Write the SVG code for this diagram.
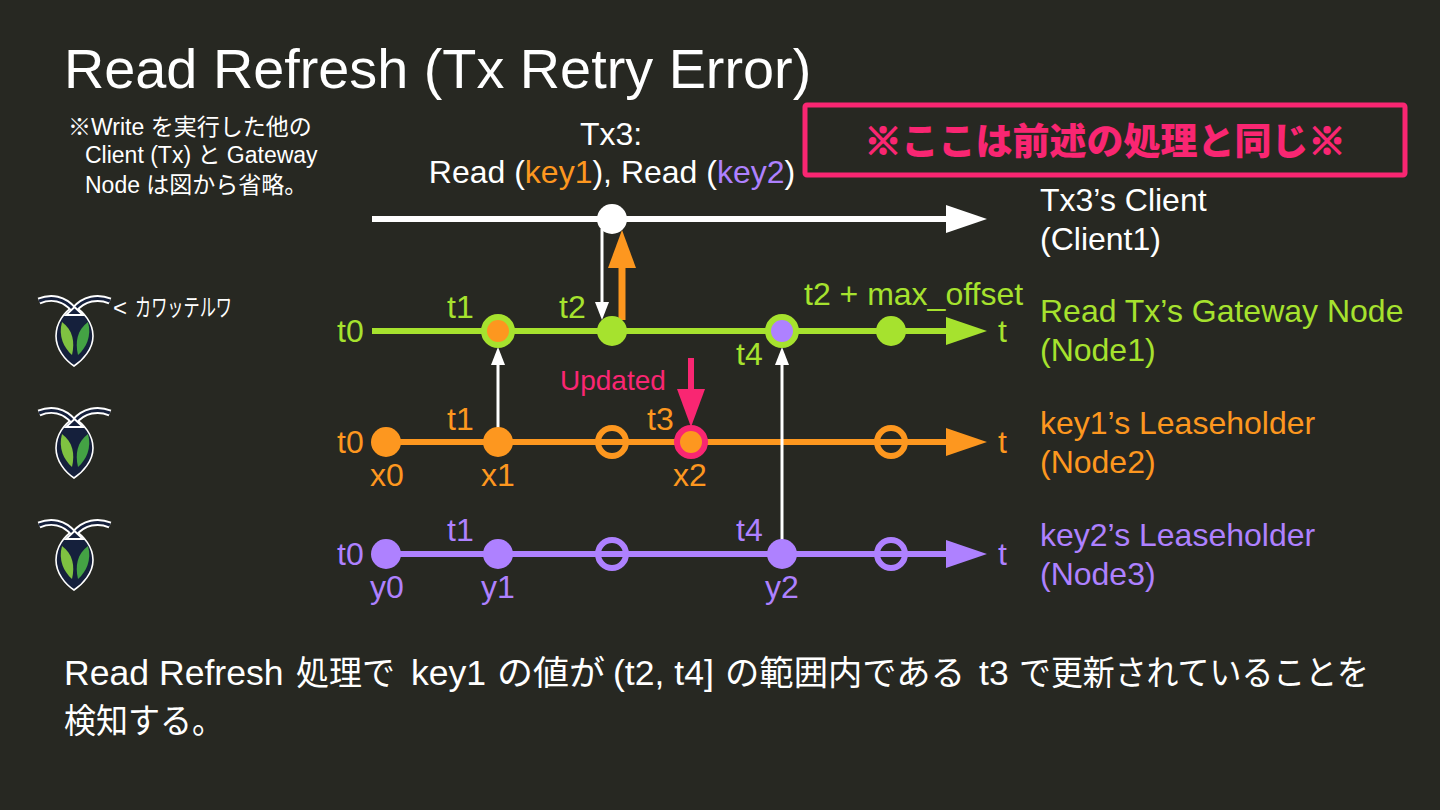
<svg xmlns="http://www.w3.org/2000/svg" width="1440" height="810" viewBox="0 0 1440 810">
<style>
text{font-family:"Liberation Sans","Noto Sans CJK JP",sans-serif;font-size:32px}
.w{fill:#fff}.g{fill:#a6e22e}.o{fill:#fd971f}.p{fill:#ae81ff}.r{fill:#f92672}
.ln{stroke-width:6;fill:none}
.ws{stroke:#fff}.gs{stroke:#a6e22e}.os{stroke:#fd971f}.ps{stroke:#ae81ff}.rs{stroke:#f92672}
.hollow{fill:none;stroke-width:6}
.ring{stroke-width:6}
.c{text-anchor:middle}
.note{font-size:23px}
.foot{font-size:35.600px}
.cj{font-size:34.500px}
.mark{stroke:#f92672;stroke-width:1.800px}
</style>
<defs>
<g id="logo">
<path d="M36 12C26 18 18 29 18 42C18 55 27 66 36 72C45 66 55 55 55 42C55 29 46 18 36 12Z" fill="#15203c" stroke="#fff" stroke-width="1.6"/>
<path d="M1 7C13 2 26 4 36 16C46 4 60 2 72 7" fill="none" stroke="#fff" stroke-width="7"/>
<path d="M1 7C13 2 26 4 36 16C46 4 60 2 72 7" fill="none" stroke="#15203c" stroke-width="3"/>
<path d="M36.500 13L45 21H28Z" fill="#15203c" stroke="#fff" stroke-width="2"/>
<path d="M24 28C20 42 26 54 34 61C37 48 35 36 24 28Z" fill="#7fc241"/>
<path d="M50 28C54 42 48 54 40 61C37 48 39 36 50 28Z" fill="#44a244"/>
</g>
</defs>
<rect width="1440" height="810" fill="#272822"/>
<text class="w" x="64" y="88" style="font-size:55.800px">Read Refresh (Tx Retry Error)</text>
<g id="note" class="w">
<text class="note" x="68" y="135">※Write を実行した他の</text>
<text class="note" x="85" y="163">Client (Tx) と Gateway</text>
<text class="note" x="85" y="193">Node は図から省略。</text>
</g>
<g id="banner">
<rect x="805" y="105" width="600" height="70" rx="2" fill="none" stroke="#f92672" stroke-width="5"/>
<text class="r c" x="1105" y="155" font-weight="900" style="font-family:'Noto Sans CJK JP',sans-serif;font-size:37px"><tspan class="mark">※</tspan>ここは前述の処理と同じ<tspan class="mark">※</tspan></text>
</g>
<g id="tx3-label" class="c">
<text class="w" x="611" y="145">Tx3:</text>
<text class="w" x="612" y="183">Read (<tspan class="o">key1</tspan>), Read (<tspan class="p">key2</tspan>)</text>
</g>
<g id="connectors">
<path class="ln ws" d="M372 219H950"/><path class="w" d="M946 205L987 219L946 233Z"/>
<path class="ln gs" d="M372 331H950"/><path class="g" d="M946 317L987 331L946 345Z"/>
<path class="ln os" d="M372 442H950"/><path class="o" d="M946 428L987 442L946 456Z"/>
<path class="ln ps" d="M372 554H950"/><path class="p" d="M946 540L987 554L946 568Z"/>
<path d="M602 229V305" stroke="#fff" stroke-width="3"/><path class="w" d="M595 302H609L602 320Z"/>
<path d="M622 320V266" stroke="#fd971f" stroke-width="7"/><path class="o" d="M608 268H636L622 230Z"/>
<path d="M498 430V362" stroke="#fff" stroke-width="3"/><path class="w" d="M491 365H505L498 347Z"/>
<path d="M782 542V362" stroke="#fff" stroke-width="3"/><path class="w" d="M775 365H789L782 347Z"/>
<path d="M691 358V392" stroke="#f92672" stroke-width="6"/><path class="r" d="M677 389H705L691 427Z"/>
</g>
<g id="client-points"><circle class="w" cx="612" cy="219" r="15"/></g>
<g id="node1-points">
<circle class="o gs ring" cx="498" cy="331" r="14"/>
<circle class="g" cx="612" cy="331" r="15"/>
<circle class="p gs ring" cx="782" cy="331" r="14"/>
<circle class="g" cx="891" cy="331" r="15"/>
</g>
<g id="node2-points">
<circle class="o" cx="386" cy="442" r="15"/>
<circle class="o" cx="498" cy="442" r="15"/>
<circle class="hollow os" cx="612" cy="442" r="14"/>
<circle class="o rs ring" cx="691" cy="442" r="14"/>
<circle class="hollow os" cx="891" cy="442" r="14"/>
</g>
<g id="node3-points">
<circle class="p" cx="386" cy="554" r="15"/>
<circle class="p" cx="498" cy="554" r="15"/>
<circle class="hollow ps" cx="612" cy="554" r="14"/>
<circle class="p" cx="782" cy="554" r="15"/>
<circle class="hollow ps" cx="891" cy="554" r="14"/>
</g>
<g id="labels-node1" class="g">
<text x="337" y="342">t0</text><text x="447" y="318">t1</text><text x="559" y="318">t2</text>
<text x="736" y="365">t4</text><text x="804" y="305">t2 + max_offset</text><text x="998" y="342">t</text>
</g>
<g id="labels-node2" class="o">
<text x="337" y="453">t0</text><text x="447" y="430">t1</text><text x="647" y="430">t3</text><text x="998" y="453">t</text>
<text x="370" y="486">x0</text><text x="481" y="486">x1</text><text x="673" y="486">x2</text>
</g>
<g id="labels-node3" class="p">
<text x="337" y="565">t0</text><text x="447" y="541">t1</text><text x="736" y="541">t4</text><text x="998" y="565">t</text>
<text x="370" y="598">y0</text><text x="481" y="598">y1</text><text x="765" y="598">y2</text>
</g>
<text id="updated" class="r" x="560" y="390" style="font-size:28px">Updated</text>
<g id="legend">
<text class="w" x="1040" y="211">Tx3’s Client</text><text class="w" x="1040" y="250">(Client1)</text>
<text class="g" x="1040" y="322">Read Tx’s Gateway Node</text><text class="g" x="1040" y="361">(Node1)</text>
<text class="o" x="1040" y="434">key1’s Leaseholder</text><text class="o" x="1040" y="473">(Node2)</text>
<text class="p" x="1040" y="546">key2’s Leaseholder</text><text class="p" x="1040" y="585">(Node3)</text>
</g>
<g id="roach1"><use href="#logo" x="38" y="294"/><text class="w" x="113" y="316" style="font-size:24px">&lt;</text><text class="w" x="135" y="316" textLength="97" lengthAdjust="spacingAndGlyphs" style="font-size:24px">カワッテルワ</text></g>
<g id="roach2"><use href="#logo" x="38" y="406"/></g>
<g id="roach3"><use href="#logo" x="38" y="518"/></g>
<g id="footer" class="w">
<text class="foot" y="685"><tspan x="64">Read Refresh</tspan><tspan class="cj" x="296" textLength="99" lengthAdjust="spacingAndGlyphs">処理で</tspan><tspan x="411">key1</tspan><tspan class="cj" x="497" textLength="108" lengthAdjust="spacingAndGlyphs">の値が</tspan><tspan x="613">(t2, t4]</tspan><tspan class="cj" x="725" textLength="240" lengthAdjust="spacingAndGlyphs">の範囲内である</tspan><tspan x="979">t3</tspan><tspan class="cj" x="1019" textLength="350" lengthAdjust="spacingAndGlyphs">で更新されていることを</tspan></text>
<text class="cj" x="64" y="733" textLength="160" lengthAdjust="spacingAndGlyphs">検知する。</text>
</g>
</svg>
